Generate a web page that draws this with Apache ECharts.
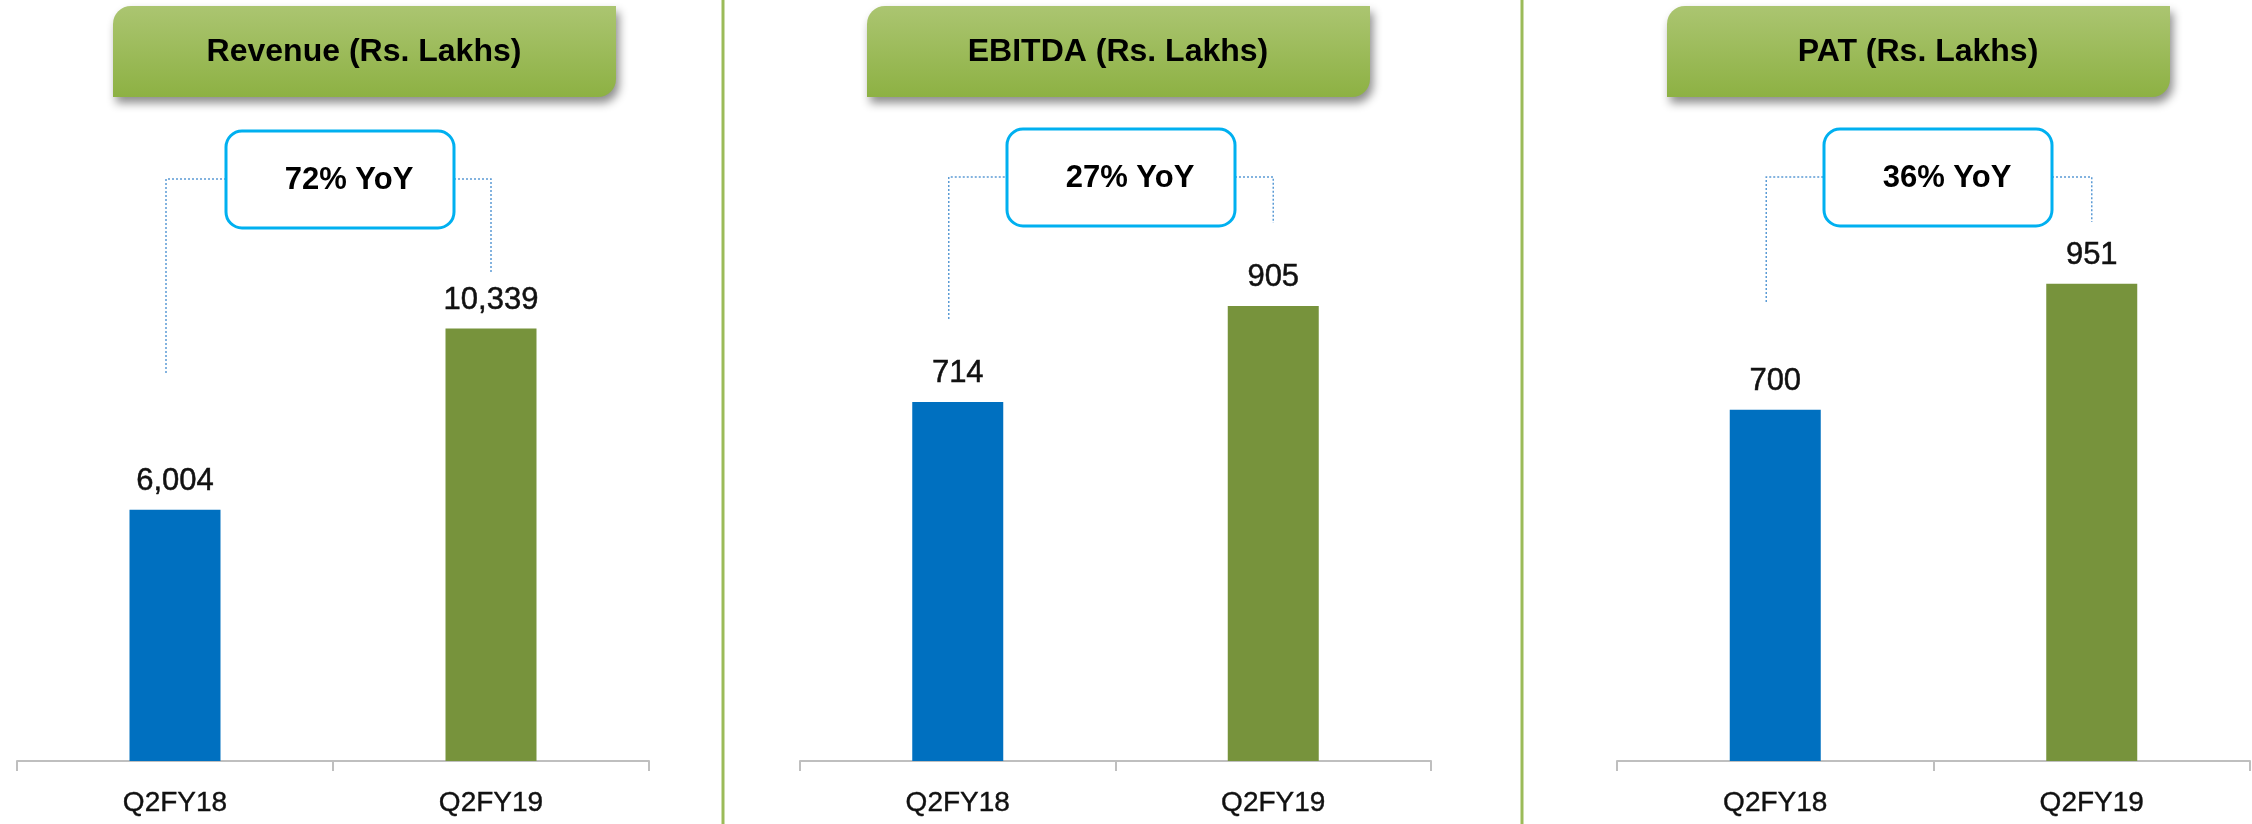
<!DOCTYPE html>
<html>
<head>
<meta charset="utf-8">
<script src="https://cdn.jsdelivr.net/npm/echarts@6/dist/echarts.min.js"></script>
<style>
  html, body { margin: 0; padding: 0; background: #fff; }
  #chart { width: 2252px; height: 824px; }
</style>
</head>
<body>
<div id="chart"></div>
<script>
  const categories = ['Q2FY18', 'Q2FY19']
  const revenue = [6004, 10339]
  const ebitda = [714, 905]
  const pat = [700, 951]
  const titles = ['Revenue (Rs. Lakhs)', 'EBITDA (Rs. Lakhs)', 'PAT (Rs. Lakhs)']
  const yoyLabels = ['72% YoY', '27% YoY', '36% YoY']

  const FONT = '"Liberation Sans", Arial, Helvetica, sans-serif'
  const barColors = ['#0070c0', '#77933c']
  const gridTop = 100
  const gridBottom = 63

  // layout of the three panels (pixels)
  const panels = [
    { values: revenue, left: 17, width: 632, max: 15800, headX: 113, boxX: 226, boxY: 131, leftEnd: 373, rightEnd: 274 },
    { values: ebitda, left: 800, width: 631, max: 1315, headX: 867, boxX: 1007, boxY: 129, leftEnd: 319, rightEnd: 223 },
    { values: pat, left: 1617, width: 633, max: 1317, headX: 1667, boxX: 1824, boxY: 129, leftEnd: 302, rightEnd: 222 }
  ]

  const chart = echarts.init(document.getElementById('chart'))

  const option = {
    backgroundColor: '#fff',
    animation: false,
    grid: panels.map(p => ({ left: p.left, width: p.width, top: gridTop, bottom: gridBottom })),
    xAxis: panels.map((p, i) => ({
      type: 'category',
      gridIndex: i,
      data: categories,
      axisLine: { lineStyle: { color: '#bfbfbf', width: 2 } },
      axisTick: { show: true, length: 10, lineStyle: { color: '#bfbfbf', width: 2 } },
      axisLabel: {
        fontFamily: FONT,
        fontSize: 28,
        color: '#111',
        textBorderColor: '#111',
        textBorderWidth: 0.4,
        margin: 28
      }
    })),
    yAxis: panels.map((p, i) => ({
      type: 'value',
      gridIndex: i,
      min: 0,
      max: p.max,
      show: false
    })),
    series: panels.map((p, i) => ({
      type: 'bar',
      xAxisIndex: i,
      yAxisIndex: i,
      barWidth: 91,
      data: p.values.map((v, j) => ({ value: v, itemStyle: { color: barColors[j] } })),
      label: {
        show: true,
        position: 'top',
        distance: 13,
        fontFamily: FONT,
        fontSize: 31,
        color: '#111',
        textBorderColor: '#111',
        textBorderWidth: 0.5,
        formatter: d => d.value.toLocaleString('en-US')
      }
    }))
  }

  chart.setOption(option)

  // decorations: dividers, header plates, YoY boxes and connectors
  const graphics = []
  ;[723, 1522].forEach(x => {
    graphics.push({
      type: 'line',
      shape: { x1: x, y1: 0, x2: x, y2: 824 },
      style: { stroke: '#9bbb59', lineWidth: 3 }
    })
  })

  panels.forEach((p, i) => {
    graphics.push({
      type: 'rect',
      shape: { x: p.headX, y: 6, width: 503, height: 91, r: [18, 0, 18, 0] },
      style: {
        fill: new echarts.graphic.LinearGradient(0, 0, 0, 1, [
          { offset: 0, color: '#abc571' },
          { offset: 1, color: '#8db143' }
        ]),
        shadowBlur: 10,
        shadowOffsetX: 3,
        shadowOffsetY: 6,
        shadowColor: 'rgba(0,0,0,0.45)'
      }
    })
    graphics.push({
      type: 'text',
      x: p.headX + 251,
      y: 52,
      style: {
        text: titles[i],
        font: 'bold 32px ' + FONT,
        fill: '#000',
        align: 'center',
        verticalAlign: 'middle'
      }
    })

    const midY = p.boxY + 48
    const c0 = chart.convertToPixel({ gridIndex: i }, [categories[0], 0])[0]
    const c1 = chart.convertToPixel({ gridIndex: i }, [categories[1], 0])[0]
    const lineStyle = { stroke: '#5b9bd5', lineWidth: 1.5, lineDash: [2, 2], fill: null }

    graphics.push({
      type: 'polyline',
      shape: { points: [[c0 - 9, p.leftEnd], [c0 - 9, midY], [p.boxX, midY]] },
      style: lineStyle
    })
    graphics.push({
      type: 'polyline',
      shape: { points: [[p.boxX + 228, midY], [c1, midY], [c1, p.rightEnd]] },
      style: lineStyle
    })

    graphics.push({
      type: 'rect',
      shape: { x: p.boxX, y: p.boxY, width: 228, height: 97, r: 16 },
      style: { fill: '#fff', stroke: '#00b0f0', lineWidth: 3 }
    })
    graphics.push({
      type: 'text',
      x: p.boxX + 123,
      y: p.boxY + 49,
      style: {
        text: yoyLabels[i],
        font: 'bold 31px ' + FONT,
        fill: '#000',
        align: 'center',
        verticalAlign: 'middle'
      }
    })
  })

  chart.setOption({ graphic: graphics })
</script>
</body>
</html>
